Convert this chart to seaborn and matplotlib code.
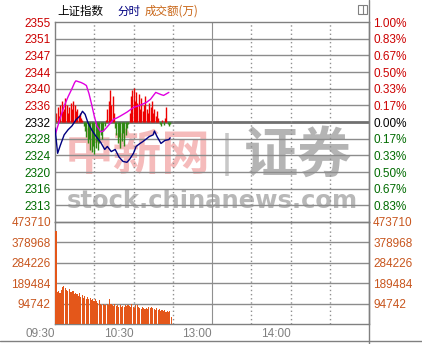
import matplotlib
matplotlib.use("Agg")
import matplotlib.pyplot as plt
import seaborn as sns
import pandas as pd
from matplotlib.patches import Rectangle
from matplotlib.lines import Line2D

# ---------------- data ----------------
prev_close = 2332.2
step = prev_close * 0.01 / 6

price_labels = ["2355", "2351", "2347", "2344", "2340", "2336", "2332",
                "2328", "2324", "2320", "2316", "2313"]
pct_labels = ["1.00%", "0.83%", "0.67%", "0.50%", "0.33%", "0.17%", "0.00%",
              "0.17%", "0.33%", "0.50%", "0.67%", "0.83%"]
vol_ticks = [473710, 378968, 284226, 189484, 94742]
vol_labels = ["473710", "378968", "284226", "189484", "94742"]
time_ticks = [0, 60, 120, 180]
time_labels = ["09:30", "10:30", "13:00", "14:00"]

# index line (navy), minutes after 09:30
idx_min = [0, 2, 4, 7, 10, 13, 16, 19, 21, 23, 25, 28, 31, 35, 38, 40, 43, 46,
           49, 52, 55, 57, 60, 62, 65, 67, 70, 72, 75, 76, 78, 81, 84, 87, 88]
idx_val = [2330.8, 2324.9, 2326.7, 2329.2, 2330.4, 2331.3, 2332.7, 2333.6,
           2334.7, 2334.0, 2332.2, 2330.4, 2329.0, 2327.4, 2325.8, 2326.5,
           2325.3, 2325.8, 2324.0, 2323.0, 2322.8, 2323.5, 2324.9, 2326.5,
           2327.2, 2327.6, 2328.3, 2328.8, 2329.2, 2330.1, 2328.8, 2327.2,
           2327.9, 2328.1, 2328.5]

# unweighted index line (magenta)
avg_min = [0, 2, 4, 7, 10, 13, 15, 16, 18, 20, 22, 24, 26, 28, 30, 32, 35, 37,
           40, 43, 45, 47, 50, 55, 60, 65, 70, 73, 77, 81, 83, 87]
avg_val = [2329.0, 2331.1, 2333.1, 2335.9, 2338.1, 2340.0, 2341.4, 2341.8,
           2341.6, 2341.4, 2341.1, 2340.7, 2338.8, 2336.3, 2333.6, 2331.3,
           2329.9, 2330.1, 2331.1, 2332.2, 2332.9, 2333.1, 2333.6, 2334.5,
           2335.6, 2336.1, 2336.8, 2337.5, 2339.1, 2338.6, 2338.4, 2339.1]

# red / green strength bars (index points from previous close), one per minute
bar_val = [0, 2.0, 3.5, 1.5, 4.0, 5.0, 2.5, 3.0, 5.5, 4.0, 2.0, 3.5, 4.5, 3.0,
           5.0, 4.0, 2.5, 3.0, 1.5, 2.0, 1.0, 0.5, -1.0, -2.0, -3.5, -5.0,
           -4.0, -6.5, -7.0, -5.5, -7.5, -6.0, -4.5, -6.5, -5.0, -3.0, -4.0,
           -2.0, -1.0, 0.5, 3.0, 5.0, 7.5, 4.0, 6.0, 2.0, -1.5, -3.0, -5.0,
           -3.5, -6.0, -4.5, -2.5, -5.5, -3.0, -1.5, -0.5, 2.0, 6.0, 7.5, 8.0,
           5.0, 7.0, 4.5, 6.5, 3.0, 5.5, 2.5, 4.0, 6.0, 3.0, 2.0, 4.5, 3.5,
           5.0, 2.0, 3.0, 1.5, 2.5, 1.0, -0.5, -1.0, 0.5, -0.8, 1.0, 3.5,
           -0.5, -1.0, -0.5]

# turnover per minute (万)
vol_val = [433000, 150000, 155000, 145000, 160000, 170000, 175000, 168000,
           160000, 155000, 162000, 150000, 148000, 155000, 140000, 145000,
           138000, 130000, 142000, 125000, 135000, 120000, 128000, 118000,
           125000, 115000, 120000, 112000, 118000, 108000, 115000, 105000,
           98000, 110000, 92000, 88000, 95000, 90000, 86000, 92000, 88000,
           117000, 95000, 90000, 85000, 92000, 84000, 88000, 80000, 86000,
           78000, 84000, 80000, 88000, 82000, 90000, 85000, 78000, 92000,
           80000, 76000, 86000, 90000, 78000, 74000, 70000, 80000, 72000,
           68000, 75000, 70000, 78000, 72000, 80000, 76000, 70000, 66000,
           72000, 64000, 68000, 62000, 66000, 60000, 64000, 58000, 62000,
           56000, 60000, 32000]

minutes = list(range(len(bar_val)))

# ---------------- styling ----------------
sns.set_style("white")
plt.rcParams["font.family"] = ["Liberation Sans", "Noto Sans CJK SC", "DejaVu Sans"]

W, H = 422, 344
fig = plt.figure(figsize=(W / 100, H / 100), dpi=100)
fig.patch.set_facecolor("white")

def fx(px):
    return px / W

def fy(py):
    return 1 - py / H

L, R = 55, 369
ax = fig.add_axes([fx(L), fy(222), fx(R - L), fy(22) - fy(222)])
axv = fig.add_axes([fx(L), fy(324), fx(R - L), fy(222) - fy(324)])
for a in (ax, axv):
    a.set_facecolor("none")
    for s in a.spines.values():
        s.set_color("#808080")
        s.set_linewidth(1.0)

GRID = "#8c8c8c"
RED = "#cc0000"
GREEN = "#006b00"
ORANGE = "#c8561e"

# ---- price panel ----
ax.set_xlim(0, 240)
ax.set_ylim(prev_close - 6 * step, prev_close + 6 * step)
for k in range(-5, 6):
    lw = 2.0 if k == 0 else 1.0
    col = "#707070" if k == 0 else GRID
    ax.axhline(prev_close + k * step, color=col, lw=lw, zorder=1)
for m in [30, 60, 90, 150, 180, 210]:
    ax.axvline(m, color="#909090", lw=1.0, ls=(0, (1, 2)), zorder=1)
    axv.axvline(m, color="#909090", lw=1.0, ls=(0, (1, 2)), zorder=1)
ax.axvline(120, color="#909090", lw=0.8, zorder=1)
axv.axvline(120, color="#909090", lw=0.8, zorder=1)

# watermark
ax.text(0.03, 0.33, "中新网", transform=ax.transAxes, fontsize=35,
        fontweight="bold", color="#f4b4b4", family=["Noto Sans CJK SC"],
        ha="left", va="center", zorder=0.5, alpha=0.9)
ax.text(0.547, 0.335, "|", transform=ax.transAxes, fontsize=30,
        color="#c8c8c8", family=["DejaVu Sans"], ha="center", va="center",
        zorder=0.5)
ax.text(0.60, 0.33, "证券", transform=ax.transAxes, fontsize=39,
        fontweight="bold", color="#b4b4b4", family=["Noto Sans CJK SC"],
        ha="left", va="center", zorder=0.5)
ax.text(0.50, 0.105, "stock.chinanews.com", transform=ax.transAxes,
        fontsize=17.5, fontweight="bold", color="#b8b8b8",
        family=["DejaVu Sans"], ha="center", va="center", zorder=0.5)

# strength bars
pos_m = [m for m, v in zip(minutes, bar_val) if v > 0]
pos_v = [prev_close + v for v in bar_val if v > 0]
neg_m = [m for m, v in zip(minutes, bar_val) if v < 0]
neg_v = [prev_close + v for v in bar_val if v < 0]
ax.vlines(pos_m, prev_close, pos_v, colors="#ee0000", lw=1.0, zorder=2)
ax.vlines(neg_m, prev_close, neg_v, colors="#2f8a12", lw=1.0, zorder=2)

df_idx = pd.DataFrame({"m": idx_min, "v": idx_val})
df_avg = pd.DataFrame({"m": avg_min, "v": avg_val})
sns.lineplot(data=df_avg, x="m", y="v", ax=ax, color="#e000e0", lw=1.0,
             zorder=3, estimator=None)
sns.lineplot(data=df_idx, x="m", y="v", ax=ax, color="#000080", lw=1.0,
             zorder=4, estimator=None)
ax.set_xlim(0, 240)
ax.set_ylim(prev_close - 6 * step, prev_close + 6 * step)
ax.set_xlabel("")
ax.set_ylabel("")
ax.set_xticks([])

pticks = [prev_close + k * step for k in range(6, -6, -1)]
pcols = [RED] * 6 + ["#000000"] + [GREEN] * 5
ax.set_yticks(pticks)
ax.set_yticklabels(price_labels, fontsize=8.5)
for t, c in zip(ax.get_yticklabels(), pcols):
    t.set_color(c)
ax.tick_params(axis="y", length=0, pad=3)

axr = ax.twinx()
axr.set_ylim(ax.get_ylim())
axr.set_yticks(pticks)
axr.set_yticklabels(pct_labels, fontsize=8.5)
for t, c in zip(axr.get_yticklabels(), pcols):
    t.set_color(c)
axr.tick_params(axis="y", length=0, pad=3)
for s in axr.spines.values():
    s.set_visible(False)

# ---- volume panel ----
vol_x = [m + 0.8 for m in minutes]
axv.bar(vol_x, vol_val, width=0.85, color="#e4571a", linewidth=0,
        zorder=3)
axv.set_xlim(0, 240)
axv.set_ylim(0, 473710)
for v in vol_ticks[1:]:
    axv.axhline(v, color=GRID, lw=1.0, zorder=1)
axv.set_xlabel("")
axv.set_ylabel("")
axv.set_yticks(vol_ticks)
axv.set_yticklabels(vol_labels, fontsize=8.5, color=ORANGE)
axv.tick_params(axis="y", length=0, pad=3)
axv.set_xticks(time_ticks)
axv.set_xticklabels(time_labels, fontsize=8.5, color="#808080", ha="right")
axv.tick_params(axis="x", length=0, pad=3)

axvr = axv.twinx()
axvr.set_ylim(0, 473710)
axvr.set_yticks(vol_ticks)
axvr.set_yticklabels(vol_labels, fontsize=8.5, color=ORANGE)
axvr.tick_params(axis="y", length=0, pad=3)
for s in axvr.spines.values():
    s.set_visible(False)

# ---- header ----
fig.text(fx(57), fy(11), "上证指数", fontsize=8.3, color="#000000",
         family=["Noto Sans CJK SC"], va="center", ha="left")
fig.text(fx(117), fy(11), "分时", fontsize=8.3, color="#000080",
         family=["Noto Sans CJK SC"], va="center", ha="left")
fig.text(fx(145), fy(11), "成交额(万)", fontsize=8.3, color="#c86414",
         family=["Noto Sans CJK SC"], va="center", ha="left")

# small window icon and frame lines
fig.patches.append(Rectangle((fx(358), fy(14)), fx(9), fy(5) - fy(14),
                             transform=fig.transFigure, fill=False,
                             edgecolor="#808080", lw=0.8))
fig.lines.append(Line2D([fx(362.5), fx(362.5)], [fy(14), fy(5)],
                        transform=fig.transFigure, color="#808080", lw=0.8))
fig.lines.append(Line2D([fx(R), fx(R)], [fy(0), fy(344)],
                        transform=fig.transFigure, color="#808080", lw=1.0))
fig.lines.append(Line2D([fx(0), fx(422)], [fy(341), fy(341)],
                        transform=fig.transFigure, color="#808080", lw=1.0))

fig.savefig("out.png", dpi=100, facecolor="white")
